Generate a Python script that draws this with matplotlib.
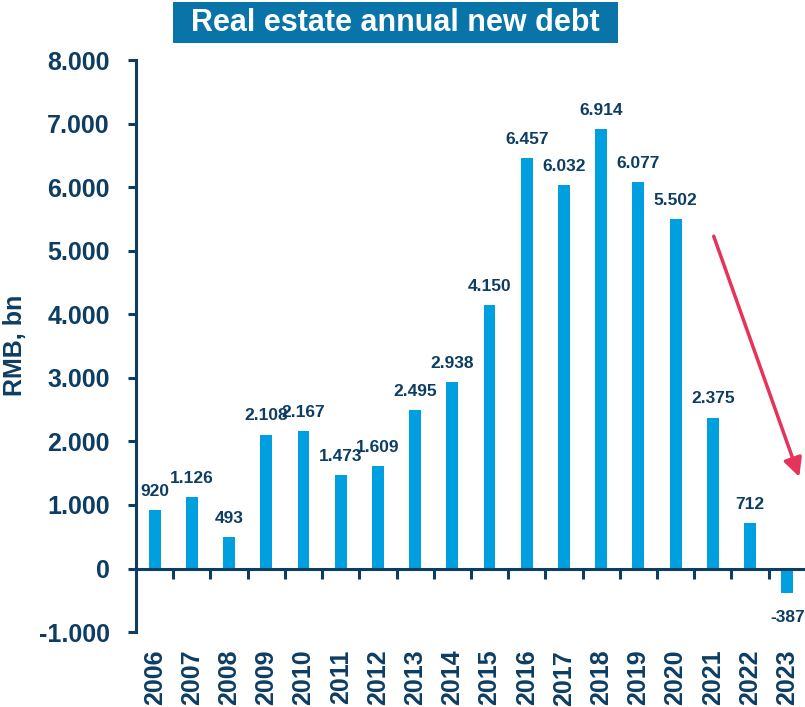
import numpy as np
import matplotlib.pyplot as plt
import matplotlib.transforms as mtransforms
from matplotlib.patches import Rectangle

plt.rcParams['font.family'] = ['Liberation Sans', 'DejaVu Sans']

years = ['2006', '2007', '2008', '2009', '2010', '2011', '2012', '2013', '2014',
         '2015', '2016', '2017', '2018', '2019', '2020', '2021', '2022', '2023']
new_debt = [920, 1126, 493, 2108, 2167, 1473, 1609, 2495, 2938,
            4150, 6457, 6032, 6914, 6077, 5502, 2375, 712, -387]
yticks = [-1000, 0, 1000, 2000, 3000, 4000, 5000, 6000, 7000, 8000]

navy = '#0d3d63'
bar_color = '#009fe0'
title_bg = '#0874a8'
arrow_color = '#e6335a'


def fmt(v):
    s = f'{abs(v):,}'.replace(',', '.')
    return ('-' if v < 0 else '') + s


fig = plt.figure(figsize=(8.05, 7.07), dpi=100)
ax = fig.add_axes([0.169, 0.106, 0.832, 0.809])

x = np.arange(len(years))
ax.bar(x, new_debt, width=0.32, color=bar_color, zorder=2)

for xi, v in zip(x, new_debt):
    if v >= 0:
        ax.annotate(fmt(v), (xi, v), xytext=(0, 8), textcoords='offset points',
                    ha='center', va='bottom', fontsize=12.5, fontweight='bold', color=navy)
    else:
        ax.annotate(fmt(v), (xi, v), xytext=(0, -12), textcoords='offset points',
                    ha='center', va='top', fontsize=12.5, fontweight='bold', color=navy)

ax.set_xlim(-0.5, len(years) - 0.5)
ax.set_ylim(-1000, 8000)
ax.set_yticks(yticks)
ax.set_yticklabels([fmt(v) for v in yticks])

for side in ['top', 'right']:
    ax.spines[side].set_visible(False)
ax.spines['left'].set_color(navy)
ax.spines['left'].set_linewidth(2.2)
ax.spines['bottom'].set_position(('data', 0))
ax.spines['bottom'].set_color(navy)
ax.spines['bottom'].set_linewidth(2.2)

ax.set_xticks(x + 0.5)
ax.set_xticklabels([])
ax.tick_params(axis='x', direction='out', length=7, width=2.2, color=navy)
ax.tick_params(axis='y', direction='out', length=6, width=2.2, color=navy,
               labelsize=18, labelcolor=navy, pad=13)
for lab in ax.get_yticklabels():
    lab.set_fontweight('bold')

trans = mtransforms.blended_transform_factory(ax.transData, ax.transAxes)
for xi, yr in zip(x, years):
    ax.text(xi, -0.031, yr, transform=trans, rotation=90, ha='center', va='top',
            fontsize=18, fontweight='bold', color=navy)

fig.text(15 / 805, 1 - 345 / 707, 'RMB, bn', rotation=90, ha='center', va='center',
         fontsize=18, fontweight='bold', color=navy)

ax.annotate('', xy=(17.35, 1400), xytext=(15.0, 5270),
            arrowprops=dict(arrowstyle='-|>', color=arrow_color, lw=2.5,
                            mutation_scale=28),
            annotation_clip=False)

fig.patches.append(Rectangle((173 / 805, 1 - 43 / 707), 445 / 805, 41 / 707,
                             transform=fig.transFigure, facecolor=title_bg,
                             edgecolor='none'))
fig.text(0.491, 0.968, 'Real estate annual new debt', ha='center', va='center',
         fontsize=22, fontweight='bold', color='white')

plt.savefig('out.png', dpi=100)
